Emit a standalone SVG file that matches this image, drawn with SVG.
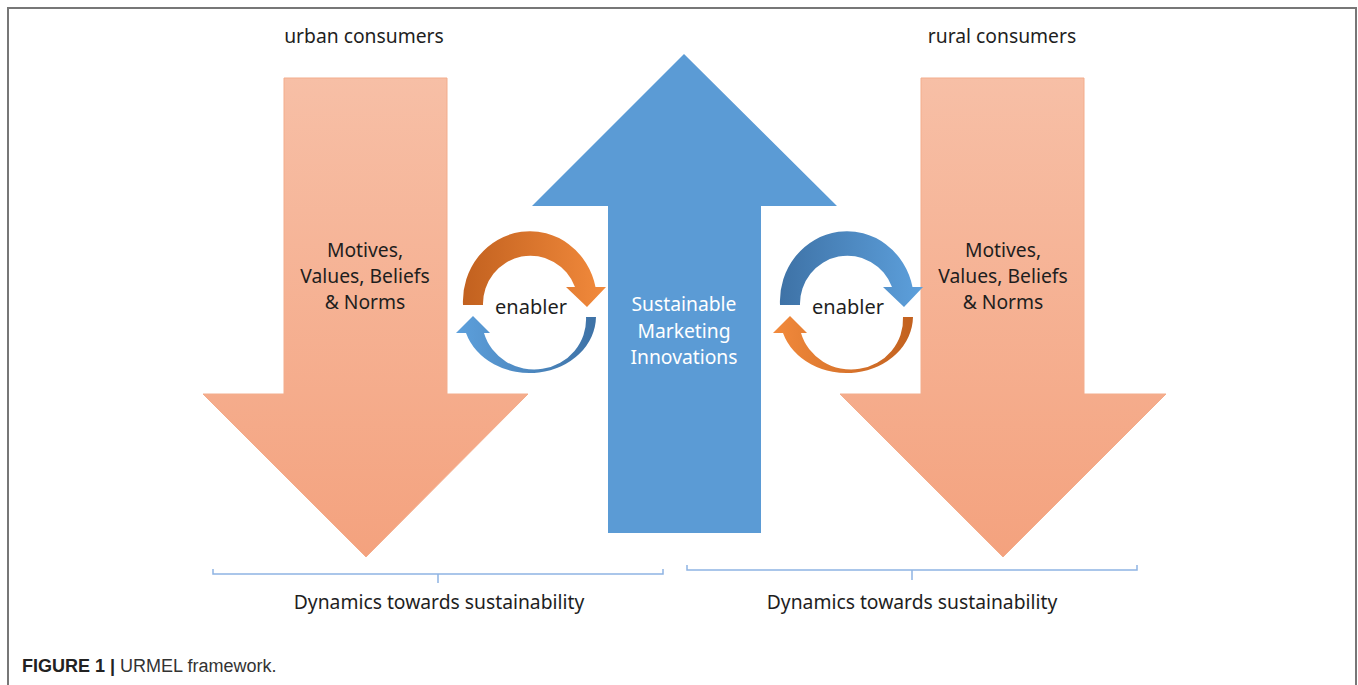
<svg xmlns="http://www.w3.org/2000/svg" width="1358" height="685" viewBox="0 0 1358 685">
<defs>
<linearGradient id="gOr" x1="0" y1="0" x2="0" y2="1">
<stop offset="0" stop-color="#f7bfa6"/>
<stop offset="1" stop-color="#f4a27e"/>
</linearGradient>
<linearGradient id="gOrArc" x1="0" y1="0" x2="1" y2="0">
<stop offset="0" stop-color="#c2611f"/>
<stop offset="1" stop-color="#f28a3c"/>
</linearGradient>
<linearGradient id="gOrArcR" x1="0" y1="0" x2="1" y2="0">
<stop offset="0" stop-color="#f28a3c"/>
<stop offset="1" stop-color="#c2611f"/>
</linearGradient>
<linearGradient id="gBlArc" x1="0" y1="0" x2="1" y2="0">
<stop offset="0" stop-color="#5da0dc"/>
<stop offset="1" stop-color="#3e72a6"/>
</linearGradient>
<linearGradient id="gBlArcR" x1="0" y1="0" x2="1" y2="0">
<stop offset="0" stop-color="#3e72a6"/>
<stop offset="1" stop-color="#5da0dc"/>
</linearGradient>
<path id="topArc" d="M463 305 A67 70 0 0 1 595.5 287 L606 287 L587 307 L566 287 L575 287 A47.5 48 0 0 0 483 305 Z"/>
<path id="botArc" d="M596 317 A66.5 57 0 0 1 466 333 L456 333 L473 316 L490 333 L484 333 A52 50 0 0 0 586 317 Z"/>
</defs>
<style>
.t{font-family:"Noto Sans","Open Sans","DejaVu Sans",sans-serif;fill:#1e1e1e;text-anchor:middle}
.lbl{font-size:19.3px}
.mv{font-size:19.3px}
.en{font-size:20px}
.w{fill:#ffffff}
.br{fill:none;stroke:#8fb4e3;stroke-width:1.5}
.frame{fill:none;stroke:#777;stroke-width:2}
.cap{font-family:"Liberation Sans",Arial,sans-serif;font-size:18px;fill:#333}
</style>
<rect width="1358" height="685" fill="#ffffff"/>
<path class="frame" d="M8 685 V8 H1356 V685"/>

<g id="urban-arrow">
<polygon points="284,78 447,78 447,394 528,394 366,557 203,394 284,394" fill="url(#gOr)" stroke="#f3ad8c" stroke-width="1"/>
<text class="t lbl" x="364" y="43">urban consumers</text>
<text class="t mv" x="365" y="257">Motives,</text>
<text class="t mv" x="365" y="283">Values, Beliefs</text>
<text class="t mv" x="365" y="309">&amp; Norms</text>
</g>

<g id="rural-arrow">
<polygon points="921,78 1084,78 1084,394 1166,394 1003,557 840,394 921,394" fill="url(#gOr)" stroke="#f3ad8c" stroke-width="1"/>
<text class="t lbl" x="1002" y="43">rural consumers</text>
<text class="t mv" x="1003" y="257">Motives,</text>
<text class="t mv" x="1003" y="283">Values, Beliefs</text>
<text class="t mv" x="1003" y="309">&amp; Norms</text>
</g>

<g id="smi-arrow">
<polygon points="684,54 837,206 761,206 761,533 608,533 608,206 532,206" fill="#5b9bd5"/>
<text class="t mv w" x="684" y="311">Sustainable</text>
<text class="t mv w" x="684" y="338">Marketing</text>
<text class="t mv w" x="684" y="364">Innovations</text>
</g>

<g id="enabler-left">
<use href="#topArc" fill="url(#gOrArc)"/>
<use href="#botArc" fill="url(#gBlArc)"/>
<text class="t en" x="531" y="314">enabler</text>
</g>

<g id="enabler-right">
<use href="#topArc" transform="translate(317,0)" fill="url(#gBlArcR)"/>
<use href="#botArc" transform="translate(317,0)" fill="url(#gOrArcR)"/>
<text class="t en" x="848" y="314">enabler</text>
</g>

<g id="connectors">
<path class="br" d="M213 569 V574 H663 V569 M438 574 V583"/>
<path class="br" d="M687 565 V570 H1137 V565 M912 570 V580"/>
</g>

<g id="dynamics-left">
<text class="t lbl" x="439" y="609">Dynamics towards sustainability</text>
</g>
<g id="dynamics-right">
<text class="t lbl" x="912" y="609">Dynamics towards sustainability</text>
</g>

<g id="caption">
<text class="cap" x="22" y="672"><tspan font-weight="bold" fill="#222">FIGURE 1 |</tspan> URMEL framework.</text>
</g>
</svg>
